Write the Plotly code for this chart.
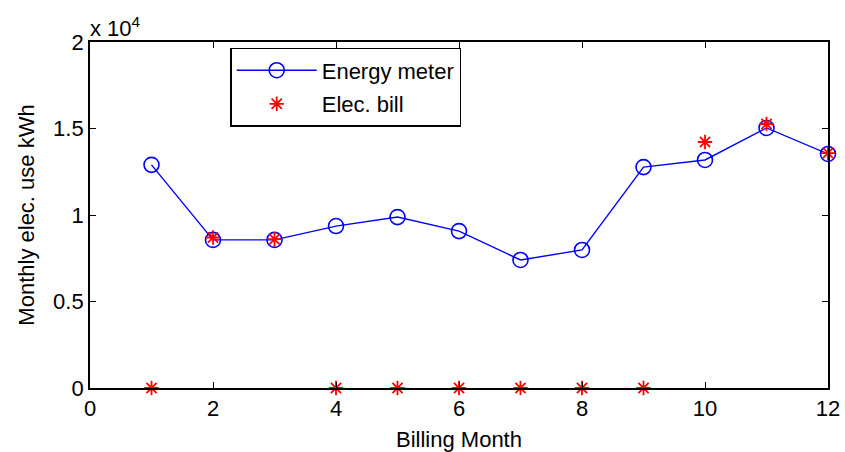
import plotly.graph_objects as go

# Billing months and monthly electricity use (kWh)
months = [1, 2, 3, 4, 5, 6, 7, 8, 9, 10, 11, 12]
energy_meter = [12900, 8560, 8560, 9360, 9880, 9070, 7400, 7980, 12770, 13180, 15030, 13530]
elec_bill = [0, 8700, 8600, 0, 0, 0, 0, 0, 0, 14220, 15260, 13580]

x_ticks = [0, 2, 4, 6, 8, 10, 12]
y_ticks = [0, 5000, 10000, 15000, 20000]
y_tick_text = ["0", "0.5", "1", "1.5", "2"]

FONT = "Liberation Sans, Arial, sans-serif"
FS = 22

fig = go.Figure()
fig.add_trace(go.Scatter(
    x=months, y=energy_meter, name="Energy meter", mode="lines+markers",
    legendgroup="meter",
    line=dict(color="#0000ff", width=1.4),
    marker=dict(symbol="circle-open", size=15, color="#0000ff", line=dict(width=1.6)),
    cliponaxis=False,
))
fig.add_trace(go.Scatter(
    x=months, y=elec_bill, name="Elec. bill", mode="markers",
    legendgroup="bill",
    marker=dict(symbol="asterisk-open", size=12, color="#ff0000", line=dict(width=1.8, color="#ff0000")),
    cliponaxis=False,
))

axis_common = dict(
    showgrid=False, zeroline=False, showline=True, mirror="ticks",
    linecolor="black", linewidth=1.8, ticks="inside", ticklen=6,
    tickcolor="black", tickwidth=1.3, automargin=False,
    tickfont=dict(family=FONT, size=FS, color="black"),
)

fig.update_xaxes(
    range=[0, 12], tickvals=x_ticks,
    title=dict(text="Billing Month", font=dict(family=FONT, size=FS, color="black"), standoff=14),
    **axis_common,
)
fig.update_yaxes(
    range=[0, 20000], tickvals=y_ticks, ticktext=y_tick_text,
    title=dict(text="Monthly elec. use kWh", font=dict(family=FONT, size=FS, color="black"), standoff=12),
    **axis_common,
)

fig.add_annotation(
    text="x 10<sup>4</sup>", xref="paper", yref="paper", x=0, y=1.0,
    xanchor="left", yanchor="bottom", showarrow=False, yshift=-1, xshift=-2,
    font=dict(family=FONT, size=FS, color="black"),
)

fig.update_layout(
    width=845, height=452,
    margin=dict(l=90, r=17, t=42, b=64, autoexpand=False),
    plot_bgcolor="white", paper_bgcolor="white",
    font=dict(family=FONT, size=FS, color="black"),
    legend=dict(
        x=0.19, y=0.983, xanchor="left", yanchor="top",
        bgcolor="white", bordercolor="black", borderwidth=1.5,
        font=dict(family=FONT, size=FS, color="black"),
        itemwidth=80, tracegroupgap=2,
    ),
)

fig.write_html("out.html")
